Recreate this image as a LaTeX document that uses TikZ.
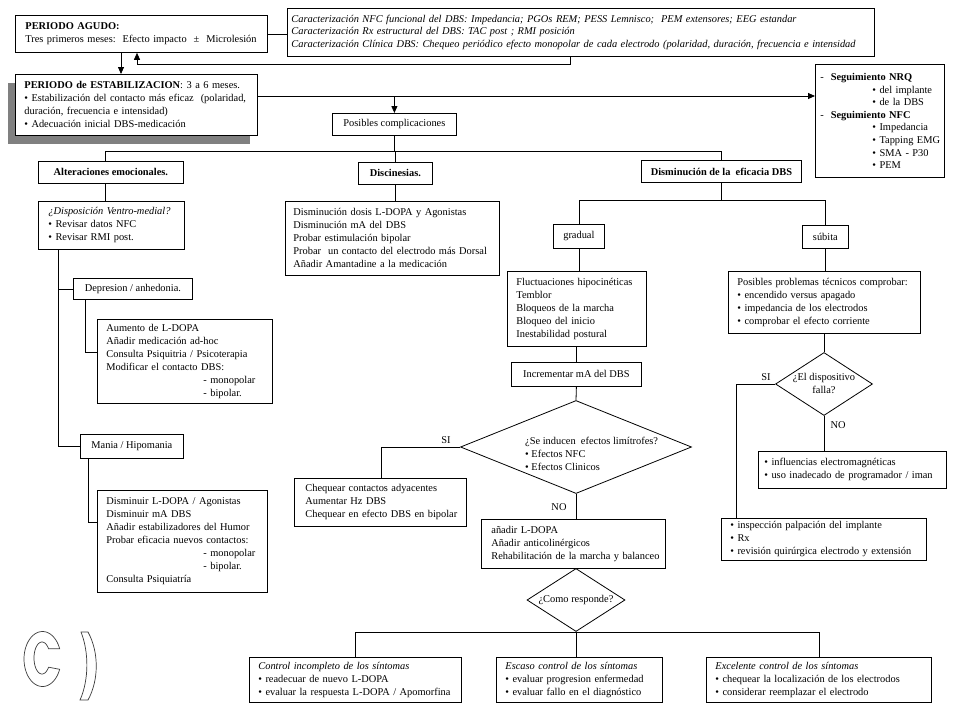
\documentclass[tikz,border=0pt]{standalone}
\usepackage{fontspec}
\setmainfont{Liberation Serif}
\usetikzlibrary{shapes.geometric,arrows.meta}
\tikzset{
  sz/.code n args={3}{\pgfmathsetmacro\bxtw{#1-2*#3}\edef\bxtmp{\noexpand\tikzset{minimum width=#1pt,minimum height=#2pt,text width=\bxtw pt,inner xsep=#3pt}}\bxtmp},
  cs/.code 2 args={\tikzset{minimum width=#1pt,minimum height=#2pt}}
}
\definecolor{shadowgray}{RGB}{128,128,128}
\definecolor{outl}{RGB}{60,60,60}
\begin{document}
\begin{tikzpicture}[x=1pt,y=-1pt,
  every node/.style={font=\fontsize{10.4}{13}\selectfont},
  bx/.style={draw, line width=0.8pt, fill=white, anchor=north west, inner ysep=2pt,
    execute at begin node={\parindent=0pt\rightskip=0pt plus 1fil minus 300pt\parfillskip=0pt plus 1fil\hyphenpenalty=10000\exhyphenpenalty=10000}},
  cbx/.style={draw, line width=0.8pt, fill=white, anchor=north west, align=center, inner sep=0pt},
  ln/.style={line width=0.8pt},
  arr/.style={line width=0.8pt, -{Triangle[length=7pt,width=6pt]}},
  dia/.style={draw, line width=0.8pt, shape=diamond, inner sep=0pt},
  lbl/.style={inner sep=0pt}
]
\useasboundingbox (0,0) rectangle (960,720);

% top
\node[bx, sz={252}{37}{10}] (agudo) at (15,15) {\textbf{PERIODO AGUDO:}\\Tres primeros meses:\ \ Efecto impacto\ \ ±\ \ Microlesión};
\node[bx, sz={587}{48}{4}, font=\fontsize{10.4}{12.5}\selectfont\itshape] (caract) at (287,8) {Caracterización NFC funcional del DBS: Impedancia; PGOs REM; PESS Lemnisco;\ \ PEM extensores; EEG estandar\\Caracterización Rx estructural del DBS: TAC post ; RMI posición\\Caracterización Clínica DBS: Chequeo periódico efecto monopolar de cada electrodo (polaridad, duración, frecuencia e intensidad};

\fill[shadowgray] (8,83) rectangle (250,144);
\node[bx, sz={242}{61}{9}] (stabil) at (15,74) {\textbf{PERIODO de ESTABILIZACION}: 3 a 6 meses.\\• Estabilización del contacto más eficaz\ \ (polaridad,\\duración, frecuencia e intensidad)\\• Adecuación inicial DBS-medicación};

\node[bx, sz={129}{113}{5}, font=\fontsize{10.4}{12.6}\selectfont] (nrq) at (815,64) {-\ \ \textbf{Seguimiento NRQ}\\\hspace*{52pt}• del implante\\\hspace*{52pt}• de la DBS\\-\ \ \textbf{Seguimiento NFC}\\\hspace*{52pt}• Impedancia\\\hspace*{52pt}• Tapping EMG\\\hspace*{52pt}• SMA - P30\\\hspace*{52pt}• PEM};

\node[cbx, cs={124}{22}] (posibles) at (332,113) {Posibles complicaciones};
\node[cbx, cs={145}{22}] (alter) at (38,161) {\textbf{Alteraciones emocionales.}};
\node[cbx, cs={74}{22}] (disc) at (358,162) {\textbf{Discinesias.}};
\node[cbx, cs={160}{22}] (dism) at (641,160) {\textbf{Disminución de la\ \ eficacia DBS}};

% left column
\node[bx, sz={146}{48}{10}] (ventro) at (38,201) {\textit{¿Disposición Ventro-medial?}\\• Revisar datos NFC\\• Revisar RMI post.};
\node[cbx, cs={119}{21}] (depre) at (73,278) {Depresion / anhedonia.};
\node[bx, sz={175}{84}{9}] (aumento) at (97,319) {Aumento de L-DOPA\\Añadir medicación ad-hoc\\Consulta Psiquitria / Psicoterapia\\Modificar el contacto DBS:\\\hspace*{97pt}- monopolar\\\hspace*{97pt}- bipolar.};
\node[cbx, cs={103}{24}] (mania) at (80,434) {Mania / Hipomania};
\node[bx, sz={170}{102}{9}] (dismin) at (97,490) {Disminuir L-DOPA / Agonistas\\Disminuir mA DBS\\Añadir estabilizadores del Humor\\Probar eficacia nuevos contactos:\\\hspace*{97pt}- monopolar\\\hspace*{97pt}- bipolar.\\Consulta Psiquiatría};

% middle column
\node[bx, sz={214}{74}{8}] (discdet) at (285,201) {Disminución dosis L-DOPA y Agonistas\\Disminución mA del DBS\\Probar estimulación bipolar\\Probar\ \ un contacto del electrodo más Dorsal\\Añadir Amantadine a la medicación};
\node[cbx, cs={51}{24}] (gradual) at (553,224) {gradual};
\node[cbx, cs={46}{23}] (subita) at (802,225) {súbita};
\node[bx, sz={139}{75}{9}] (fluct) at (507,271) {Fluctuaciones hipocinéticas\\Temblor\\Bloqueos de la marcha\\Bloqueo del inicio\\Inestabilidad postural};
\node[cbx, cs={130}{24}] (incr) at (511,362) {Incrementar mA del DBS};
\node[dia, minimum width=231pt, minimum height=93pt] (sed) at (576,447) {};
\node[lbl, anchor=west, align=left] (sedt) at (525,454) {¿Se inducen\ \ efectos limítrofes?\\• Efectos NFC\\• Efectos Clinicos};
\node[bx, sz={172}{48}{11}] (cheq) at (294,478) {Chequear contactos adyacentes\\Aumentar Hz DBS\\Chequear en efecto DBS en bipolar};
\node[bx, sz={184}{49}{10}] (anadir) at (481,519) {añadir L-DOPA\\Añadir anticolinérgicos\\Rehabilitación de la marcha y balanceo};
\node[dia, minimum width=98pt, minimum height=63pt] (como) at (576,600) {};
\node[lbl] (comot) at (576,600) {¿Como responde?};
\node[bx, sz={212}{45}{9}] (control) at (249,657) {\textit{Control incompleto de los síntomas}\\• readecuar de nuevo L-DOPA\\• evaluar la respuesta L-DOPA / Apomorfina};
\node[bx, sz={166}{45}{9}] (escaso) at (496,657) {\textit{Escaso control de los síntomas}\\• evaluar progresion enfermedad\\• evaluar fallo en el diagnóstico};
\node[bx, sz={225}{45}{9}] (excel) at (706,657) {\textit{Excelente control de los síntomas}\\• chequear la localización de los electrodos\\• considerar reemplazar el electrodo};

% right column
\node[bx, sz={192}{62}{9}] (problemas) at (728,271) {Posibles problemas técnicos comprobar:\\• encendido versus apagado\\• impedancia de los electrodos\\• comprobar el efecto corriente};
\node[dia, minimum width=97pt, minimum height=63pt] (falla) at (824,384) {};
\node[lbl, align=center] (fallat) at (824,383) {¿El dispositivo\\falla?};
\node[bx, sz={188}{37}{6}] (influ) at (758,451) {• influencias electromagnéticas\\• uso inadecado de programador / iman};
\node[bx, sz={205}{42}{9}] (insp) at (721,518) {• inspección palpación del implante\\• Rx\\• revisión quirúrgica electrodo y extensión};

% labels
\node[lbl] (si1) at (446,440) {SI};
\node[lbl] (no1) at (559,507) {NO};
\node[lbl] (si2) at (766,377) {SI};
\node[lbl] (no2) at (838,425) {NO};

% connectors
\coordinate (c1) at (570,64);
\coordinate (c2) at (137,64);
\coordinate (c3) at (121,0);
\coordinate (c4) at (0,96);
\coordinate (bus1) at (0,151);
\coordinate (a1) at (105,0);
\coordinate (v1) at (58,0);
\coordinate (d1) at (85,0);
\coordinate (d2) at (0,352);
\coordinate (m1) at (88,0);
\coordinate (m2) at (0,522);
\coordinate (bus2) at (0,200);
\coordinate (s1) at (381,0);
\coordinate (f1) at (736,0);

\draw[ln] (agudo.east) -- (agudo.east -| caract.west);
\draw[arr] (caract.south -| c1) -- (c1) -- (c2) -- (agudo.south -| c2);
\draw[arr] (agudo.south -| c3) -- (stabil.north -| c3);
\draw[arr] (stabil.east |- c4) -- (nrq.west |- c4);
\draw[arr] (posibles.north |- c4) -- (posibles.north);
\draw[ln] (posibles.south) -- (posibles.south |- bus1);
\draw[ln] (a1 |- alter.north) -- (a1 |- bus1) -- (dism.north |- bus1) -- (dism.north);
\draw[ln] (disc.north) -- (disc.north |- bus1);
\draw[ln] (alter.south -| a1) -- (ventro.north -| a1);
\draw[ln] (ventro.south -| v1) -- (v1 |- mania.west) -- (mania.west);
\draw[ln] (v1 |- depre.west) -- (depre.west);
\draw[ln] (depre.south -| d1) -- (d1 |- d2) -- (aumento.west |- d2);
\draw[ln] (mania.south -| m1) -- (m1 |- m2) -- (dismin.west |- m2);
\draw[ln] (disc.south) -- (disc.south |- discdet.north);
\draw[ln] (dism.south) -- (dism.south |- bus2);
\draw[ln] (gradual.north) -- (gradual.north |- bus2) -- (subita.north |- bus2) -- (subita.north);
\draw[ln] (gradual.south) -- (gradual.south |- fluct.north);
\draw[ln] (incr.north |- fluct.south) -- (incr.north);
\draw[ln] (incr.south) -- (sed.north);
\draw[ln] (sed.west) -- (s1 |- sed.west) -- (s1 |- cheq.north);
\draw[ln] (sed.south) -- (sed.south |- anadir.north);
\draw[ln] (control.north) -- (control.north |- como.south) -- (excel.north |- como.south) -- (excel.north);
\draw[ln] (como.south) -- (como.south |- escaso.north);
\draw[ln] (subita.south) -- (subita.south |- problemas.north);
\draw[ln] (problemas.south -| falla.north) -- (falla.north);
\draw[ln] (falla.west) -- (f1 |- falla.west) -- (f1 |- insp.north);
\draw[ln] (falla.south) -- (falla.south |- influ.north);

% big outlined "C )"
\draw[line width=0.7pt, draw=outl, fill=white] plot[domain=22:338, samples=60, variable=\t] ({42.5+18.5*cos(\t)},{659+27.5*sin(\t)}) -- plot[domain=325:35, samples=50, variable=\t] ({42+8*cos(\t)},{658+16*sin(\t)}) -- cycle;
\draw[line width=0.7pt, draw=outl, fill=white] (81,632) -- (88,632) .. controls (99,652) and (99,680) .. (88,700) -- (80,700) .. controls (89,680) and (89,652) .. (81,632) -- cycle;
\end{tikzpicture}
\end{document}
